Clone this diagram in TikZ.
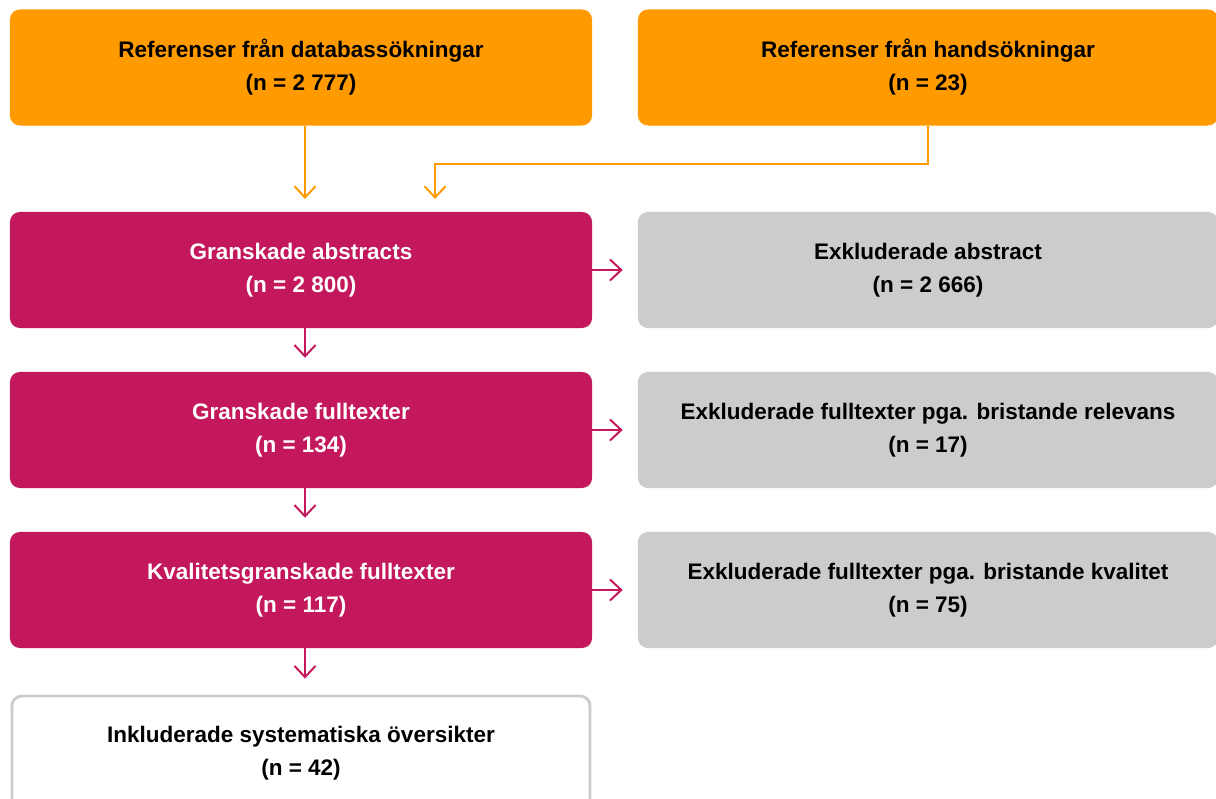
\documentclass[tikz,border=0pt]{standalone}
\usepackage{fontspec}
\setmainfont{Liberation Sans}
\usetikzlibrary{positioning,arrows.meta}

\definecolor{sbuorange}{RGB}{255,154,0}
\definecolor{sbured}{RGB}{195,24,91}
\definecolor{sbugray}{RGB}{204,204,204}

\begin{document}
\begin{tikzpicture}[x=0.025cm, y=-0.025cm,
  box/.style = {rounded corners=0.25cm, minimum width=14.55cm, minimum height=2.9cm,
                align=center, font=\bfseries\fontsize{16}{23.5}\selectfont},
  orangebox/.style = {box, fill=sbuorange, text=black},
  redbox/.style = {box, fill=sbured, text=white},
  graybox/.style = {box, fill=sbugray, text=black},
  endbox/.style = {box, draw=sbugray, line width=2pt, fill=white, text=black},
  conn/.style = {line width=1.4pt, -{Straight Barb[length=8pt,width=15pt]}},
  oconn/.style = {conn, draw=sbuorange},
  rconn/.style = {conn, draw=sbured}]
\useasboundingbox (0,0) rectangle (1216,798);
\clip (0,0) rectangle (1216,798);

\node[orangebox] (dbref) at (301,67.5) {Referenser från databassökningar\\(n = 2 777)};
\node[orangebox, minimum width=14.5cm] (handref) at (928,67.5) {Referenser från handsökningar\\(n = 23)};

\node[redbox] (abstr) at (301,270) {Granskade abstracts\\(n = 2 800)};
\node[graybox, minimum width=14.5cm] (exabstr) at (928,270) {Exkluderade abstract\\(n = 2 666)};

\node[redbox] (full) at (301,430) {Granskade fulltexter\\(n = 134)};
\node[graybox, minimum width=14.5cm] (exfull) at (928,430) {Exkluderade fulltexter pga. bristande relevans\\(n = 17)};

\node[redbox] (kval) at (301,590) {Kvalitetsgranskade fulltexter\\(n = 117)};
\node[graybox, minimum width=14.5cm] (exkval) at (928,590) {Exkluderade fulltexter pga. bristande kvalitet\\(n = 75)};

\node[endbox, minimum width=14.45cm, minimum height=2.85cm] (incl) at (301,753) {Inkluderade systematiska översikter\\(n = 42)};

% orange flow
\draw[oconn, shorten >=0.32cm] ([xshift=0.1cm]dbref.south) -- ([xshift=0.1cm]abstr.north);
\draw[oconn, shorten >=0.32cm] (handref.south) -- ++(0,38) -| ([xshift=3.35cm]abstr.north);

% down the left column
\draw[rconn, shorten >=0.35cm] ([xshift=0.1cm]abstr.south) -- ([xshift=0.1cm]full.north);
\draw[rconn, shorten >=0.35cm] ([xshift=0.1cm]full.south) -- ([xshift=0.1cm]kval.north);
\draw[rconn, shorten >=0.4cm] ([xshift=0.1cm]kval.south) -- ([xshift=0.1cm]incl.north);

% exclusions
\draw[rconn, shorten >=0.375cm] (abstr.east) -- (exabstr.west);
\draw[rconn, shorten >=0.375cm] (full.east) -- (exfull.west);
\draw[rconn, shorten >=0.375cm] (kval.east) -- (exkval.west);
\end{tikzpicture}
\end{document}
